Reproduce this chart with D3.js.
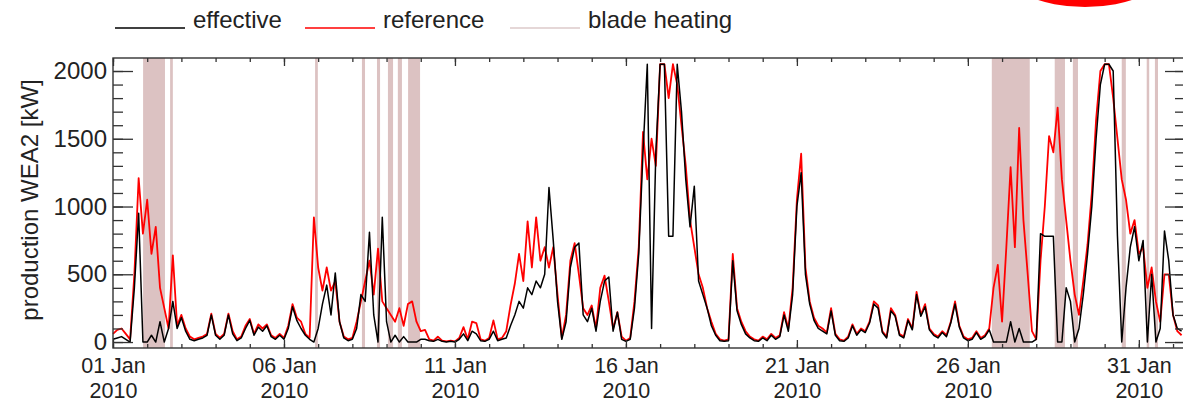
<!DOCTYPE html>
<html>
<head>
<meta charset="utf-8">
<script src="https://cdn.jsdelivr.net/npm/d3@7"></script>
<style>
    body { margin: 0; background: #fff; }
    svg { display: block; font-family: 'Liberation Sans', Arial, Helvetica, sans-serif; }
</style>
</head>
<body>
<svg id="chart" width="1183" height="401"></svg>
<script>
// Start of the series and sampling step (values below are read every 3 hours)
const START_DATE = new Date(Date.UTC(2010, 0, 1));
const STEP_HOURS = 3;

// reference production [kW], 8 values per day from 01 Jan 00:00
const referenceKW = [
    60, 90, 100, 60, 20, 500, 1210, 800,
    1050, 650, 850, 400, 250, 100, 640, 120,
    200, 100, 40, 20, 30, 40, 60, 210,
    60, 30, 60, 210, 80, 20, 40, 120,
    170, 60, 130, 100, 130, 50, 30, 60,
    30, 120, 280, 180, 150, 60, 30, 920,
    550, 380, 550, 380, 450, 150, 40, 20,
    30, 150, 300, 450, 600, 350, 690, 300,
    250, 200, 150, 250, 120, 280, 300, 150,
    80, 90, 20, 10, 40, 10, 5, 10,
    5, 30, 110, 20, 150, 140, 20, 10,
    30, 160, 20, 30, 80, 270, 430, 650,
    450, 890, 550, 920, 600, 700, 550, 700,
    350, 30, 200, 600, 730, 500, 250, 200,
    270, 100, 400, 490, 300, 100, 220, 40,
    10, 30, 300, 700, 1550, 1200, 1500, 1300,
    2050, 2050, 1800, 2050, 1900, 1600, 1300, 900,
    700, 500, 400, 250, 150, 60, 20, 10,
    20, 650, 250, 150, 80, 40, 20, 10,
    40, 20, 60, 30, 50, 220, 100, 400,
    1050, 1390, 550, 300, 180, 120, 100, 70,
    250, 60, 20, 10, 40, 130, 60, 100,
    80, 150, 300, 270, 80, 40, 250, 200,
    60, 40, 170, 100, 370, 200, 280, 100,
    60, 40, 80, 50, 150, 300, 120, 40,
    20, 30, 80, 30, 50, 100, 400, 570,
    150, 700, 1290, 700, 1580, 900, 500, 80,
    20, 600, 1000, 1520, 1400, 1730, 1200, 900,
    600, 350, 200, 450, 720, 1100, 1640, 2000,
    2050, 2050, 1800, 1500, 1200, 1050, 800, 900,
    650, 700, 400, 550, 300, 150, 500, 500,
    200, 80, 50
];

// effective production [kW], same time steps
const effectiveKW = [
    20, 30, 40, 20, 0, 400, 950, 0,
    0, 50, 0, 150, 0, 100, 300, 100,
    180, 80, 20, 10, 20, 30, 50, 200,
    50, 20, 50, 200, 60, 10, 30, 100,
    160, 50, 110, 80, 120, 40, 20, 50,
    20, 100, 260, 160, 100, 50, 20, 0,
    100, 280, 420, 200, 510, 150, 30, 10,
    20, 100, 350, 300, 810, 200, 0, 920,
    150, 0, 50, 0, 40, 0, 0, 0,
    20, 20, 10, 5, 20, 5, 0, 5,
    0, 20, 60, 10, 80, 60, 10, 5,
    20, 80, 10, 20, 30, 120, 200, 300,
    250, 400, 350, 450, 400, 500, 1140, 750,
    300, 20, 150, 550, 700, 730, 200, 150,
    250, 80, 300, 450, 480, 80, 220, 20,
    5, 20, 250, 650, 1400, 2050, 100, 1400,
    2050, 2050, 780, 780, 2050, 1700, 1200, 850,
    1150, 450, 350, 250, 120, 50, 10, 5,
    10, 600, 230, 130, 60, 30, 10, 5,
    30, 10, 50, 20, 40, 200, 80, 350,
    1000, 1250, 500, 280, 160, 100, 80, 60,
    230, 50, 10, 5, 30, 120, 50, 90,
    70, 140, 280, 250, 70, 30, 230, 190,
    50, 30, 160, 90, 350, 190, 260, 90,
    50, 30, 70, 40, 140, 280, 110, 30,
    10, 20, 70, 20, 40, 90, 0, 0,
    0, 0, 150, 0, 100, 0, 0, 0,
    20, 800, 780, 780, 780, 0, 0, 400,
    300, 0, 100, 350, 650, 1000, 1500, 1900,
    2050, 2050, 2000, 780, 0, 400, 700, 850,
    600, 750, 0, 500, 0, 100, 820, 600,
    200, 100, 80
];

// blade heating periods, in days after 01 Jan 00:00
const bladeStartDay = [0.88, 1.67, 5.91, 7.28, 7.72, 8.04, 8.33, 8.63, 25.70, 27.54, 28.07, 29.50, 30.23, 30.47];
const bladeEndDay   = [1.52, 1.75, 5.99, 7.37, 7.81, 8.19, 8.45, 8.98, 26.81, 27.84, 28.22, 29.62, 30.29, 30.56];

// axis ticks
const yMajorTicks = [0, 500, 1000, 1500, 2000];
const xLabelDays = [0, 5, 10, 15, 20, 25, 30];

const legendNames = ['effective', 'reference', 'blade heating'];
const legendColors = ['#000000', '#ff0000', '#dccaca'];


class ProductionChart {

    constructor() {
        this.svg = d3.select('#chart');
        this.PLOT = { left: 113, right: 1185, top: 58, bottom: 348 };
        this.FONT = 24;
        this.X_FONT = 21.5;
        this.DAY = 24 * 3600 * 1000;

        // Time Scale
        this.scaleX = d3.scaleUtc()
            .domain([START_DATE, new Date(+START_DATE + 31.35 * this.DAY)])
            .range([this.PLOT.left, this.PLOT.right]);

        // Power Scale
        this.scaleY = d3.scaleLinear()
            .domain([-44, 2096])
            .range([this.PLOT.bottom, this.PLOT.top]);

        this.times = referenceKW.map((d, i) => new Date(+START_DATE + i * STEP_HOURS * 3600 * 1000));

        this.drawBands();
        this.drawLines();
        this.drawAxes();
        this.drawLegend();
        this.drawMarker();
    }

    dayToDate(day) {
        return new Date(+START_DATE + day * this.DAY);
    }

    // BLADE HEATING BANDS
    drawBands() {
        this.svg.append('g')
            .selectAll('rect')
            .data(bladeStartDay.map((d, i) => [d, bladeEndDay[i]]))
            .join('rect')
            .attr('x', d => this.scaleX(this.dayToDate(d[0])))
            .attr('width', d => Math.max(2.5, this.scaleX(this.dayToDate(d[1])) - this.scaleX(this.dayToDate(d[0]))))
            .attr('y', this.PLOT.top)
            .attr('height', this.PLOT.bottom - this.PLOT.top)
            .attr('fill', '#dcc2c2');
    }

    // PRODUCTION LINES
    drawLines() {
        let line = d3.line()
            .x((d, i) => this.scaleX(this.times[i]))
            .y(d => this.scaleY(d));

        this.svg.append('path')
            .attr('d', line(referenceKW))
            .attr('fill', 'none')
            .attr('stroke', '#ff0000')
            .attr('stroke-width', 1.8)
            .attr('stroke-linejoin', 'round');

        this.svg.append('path')
            .attr('d', line(effectiveKW))
            .attr('fill', 'none')
            .attr('stroke', '#000000')
            .attr('stroke-width', 1.5)
            .attr('stroke-linejoin', 'round');
    }

    styleAxis(g, size) {
        g.select('.domain').remove();
        g.selectAll('line').attr('stroke', '#333').attr('stroke-width', 1.3);
        g.selectAll('text').attr('font-size', size || this.FONT).attr('fill', '#222').attr('font-family', null);
    }

    // AXES AND FRAME
    drawAxes() {
        let days = d3.range(0, 32).map(d => this.dayToDate(d));
        let majorDays = xLabelDays.map(d => this.dayToDate(d));
        let minorY = d3.range(0, 2001, 100);

        // bottom
        this.svg.append('g')
            .attr('transform', `translate(0,${this.PLOT.bottom})`)
            .call(d3.axisBottom(this.scaleX).tickValues(days).tickSize(-4).tickFormat(''))
            .call(g => this.styleAxis(g));

        let bottom = this.svg.append('g')
            .attr('transform', `translate(0,${this.PLOT.bottom})`)
            .call(d3.axisBottom(this.scaleX).tickValues(majorDays).tickSize(-8).tickPadding(10)
                .tickFormat(d3.utcFormat('%d %b')))
            .call(g => this.styleAxis(g, this.X_FONT));

        // second label line with the year
        bottom.selectAll('.tick')
            .append('text')
            .attr('y', 49.5)
            .attr('text-anchor', 'middle')
            .attr('font-size', this.X_FONT)
            .attr('fill', '#222')
            .text(d => d3.utcFormat('%Y')(d));

        // top
        this.svg.append('g')
            .attr('transform', `translate(0,${this.PLOT.top})`)
            .call(d3.axisTop(this.scaleX).tickValues(days).tickSize(-4).tickFormat(''))
            .call(g => this.styleAxis(g));
        this.svg.append('g')
            .attr('transform', `translate(0,${this.PLOT.top})`)
            .call(d3.axisTop(this.scaleX).tickValues(majorDays).tickSize(-8).tickFormat(''))
            .call(g => this.styleAxis(g));

        // left
        this.svg.append('g')
            .attr('transform', `translate(${this.PLOT.left},0)`)
            .call(d3.axisLeft(this.scaleY).tickValues(minorY).tickSize(-10).tickFormat(''))
            .call(g => this.styleAxis(g));
        this.svg.append('g')
            .attr('transform', `translate(${this.PLOT.left},0)`)
            .call(d3.axisLeft(this.scaleY).tickValues(yMajorTicks).tickSize(-20).tickPadding(6)
                .tickFormat(d3.format('d')))
            .call(g => this.styleAxis(g));

        // right
        this.svg.append('g')
            .attr('transform', `translate(${this.PLOT.right},0)`)
            .call(d3.axisRight(this.scaleY).tickValues(minorY).tickSize(-10).tickFormat(''))
            .call(g => this.styleAxis(g));
        this.svg.append('g')
            .attr('transform', `translate(${this.PLOT.right},0)`)
            .call(d3.axisRight(this.scaleY).tickValues(yMajorTicks).tickSize(-20).tickFormat(''))
            .call(g => this.styleAxis(g));

        // frame
        this.svg.append('rect')
            .attr('x', this.PLOT.left)
            .attr('y', this.PLOT.top)
            .attr('width', this.PLOT.right - this.PLOT.left)
            .attr('height', this.PLOT.bottom - this.PLOT.top)
            .attr('fill', 'none')
            .attr('stroke', '#333')
            .attr('stroke-width', 1.4);

        // y title
        this.svg.append('text')
            .attr('transform', `translate(38,${(this.PLOT.top + this.PLOT.bottom) / 2 - 3}) rotate(-90)`)
            .attr('text-anchor', 'middle')
            .attr('font-size', this.FONT)
            .attr('fill', '#222')
            .text('production WEA2 [kW]');
    }

    // LEGEND
    drawLegend() {
        let startX = [115, 305, 510];
        let legend = this.svg.append('g').attr('transform', 'translate(0,28)');
        let items = legend.selectAll('g')
            .data(legendNames)
            .join('g')
            .attr('transform', (d, i) => `translate(${startX[i]},0)`);

        items.append('line')
            .attr('x1', 0).attr('x2', 70)
            .attr('y1', 0).attr('y2', 0)
            .attr('stroke', (d, i) => legendColors[i])
            .attr('stroke-width', 1.6);

        items.append('text')
            .attr('x', 78)
            .attr('y', 0)
            .attr('font-size', this.FONT)
            .attr('fill', '#222')
            .text(d => d);
    }

    // red mark cut at the top edge
    drawMarker() {
        this.svg.append('ellipse')
            .attr('cx', 1085)
            .attr('cy', -30)
            .attr('rx', 80)
            .attr('ry', 37)
            .attr('fill', '#ff0000');
    }
}

new ProductionChart();
</script>
</body>
</html>
